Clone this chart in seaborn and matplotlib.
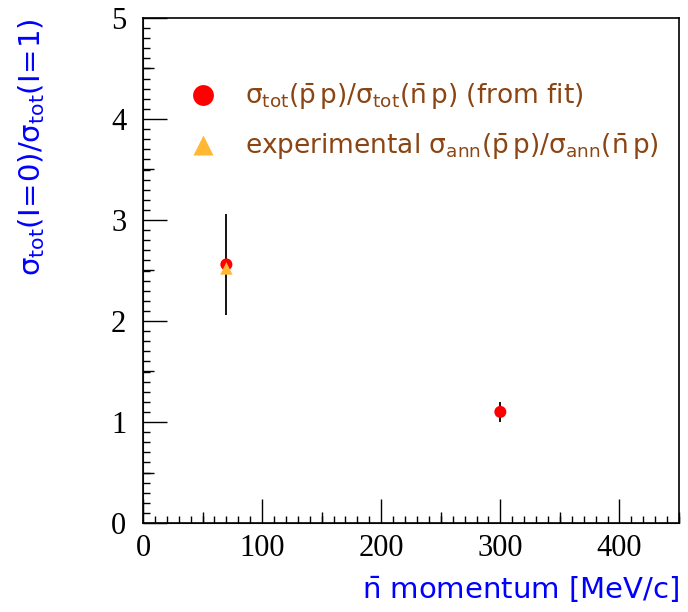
import matplotlib
matplotlib.use("Agg")
import matplotlib.pyplot as plt
from matplotlib.lines import Line2D
from matplotlib.ticker import MultipleLocator, FixedLocator, NullFormatter
import seaborn as sns
import pandas as pd

# data
fit_momentum = [70, 300]
fit_ratio = [2.56, 1.10]
fit_err = [0.50, 0.10]
exp_momentum = [70]
exp_ratio = [2.52]

legend_labels = [
    r"$\sigma_{tot}(\bar{p}\,p)/\sigma_{tot}(\bar{n}\,p)$ (from fit)",
    r"experimental $\sigma_{ann}(\bar{p}\,p)/\sigma_{ann}(\bar{n}\,p)$",
]
xlabel = r"$\bar{n}$ momentum [MeV/c]"
ylabel = r"$\sigma_{tot}(I\!=\!0)/\sigma_{tot}(I\!=\!1)$"

sns.set_style("white")
plt.rcParams["font.family"] = ["DejaVu Sans"]
plt.rcParams["mathtext.fontset"] = "custom"
plt.rcParams["mathtext.rm"] = "DejaVu Sans"
plt.rcParams["mathtext.it"] = "DejaVu Sans"
plt.rcParams["mathtext.default"] = "regular"
plt.rcParams["xtick.direction"] = "in"
plt.rcParams["ytick.direction"] = "in"
plt.rcParams["xtick.bottom"] = True
plt.rcParams["ytick.left"] = True
plt.rcParams["xtick.color"] = "black"
plt.rcParams["ytick.color"] = "black"

RED = "#ff0000"
ORANGE = "#ffb833"
BROWN = "#8b4513"
BLUE = "#0000ff"

fig = plt.figure(figsize=(6.88, 6.12), dpi=100)
ax = fig.add_axes([143/688, 89/612, 536/688, 505/612])

df_fit = pd.DataFrame({"p": fit_momentum, "r": fit_ratio, "e": fit_err})
df_exp = pd.DataFrame({"p": exp_momentum, "r": exp_ratio})

ax.errorbar(df_fit["p"], df_fit["r"], yerr=df_fit["e"], fmt="none",
            ecolor="black", elinewidth=1.3, capsize=0, zorder=2)
sns.scatterplot(data=df_fit, x="p", y="r", ax=ax, color=RED, marker="o",
                s=75, edgecolor="none", zorder=3, legend=False)
sns.scatterplot(data=df_exp, x="p", y="r", ax=ax, color=ORANGE, marker="^",
                s=80, edgecolor="none", zorder=4, legend=False)

ax.set_xlim(0, 450)
ax.set_ylim(0, 5)

# ticks
serif = "Liberation Serif"
ax.xaxis.set_major_locator(MultipleLocator(100))
ax.xaxis.set_minor_locator(MultipleLocator(10))
ax.yaxis.set_major_locator(MultipleLocator(1))
ax.yaxis.set_minor_locator(MultipleLocator(0.1))
ax.tick_params(which="major", direction="in", length=17, width=1.0,
               labelsize=22, bottom=True, left=True, top=False, right=False,
               color="black")
ax.tick_params(which="minor", direction="in", length=5, width=1.0,
               bottom=True, left=True, top=False, right=False, color="black")
ax.tick_params(axis="x", which="major", pad=8)
ax.tick_params(axis="y", which="major", pad=12)
for lab in ax.get_xticklabels() + ax.get_yticklabels():
    lab.set_fontfamily(serif)

# medium ticks
secx = ax.secondary_xaxis("bottom")
secx.xaxis.set_major_locator(FixedLocator([50, 150, 250, 350, 450]))
secx.xaxis.set_major_formatter(NullFormatter())
secx.tick_params(direction="in", length=8, width=1.0, bottom=True)
secy = ax.secondary_yaxis("left")
secy.yaxis.set_major_locator(FixedLocator([0.5, 1.5, 2.5, 3.5, 4.5]))
secy.yaxis.set_major_formatter(NullFormatter())
secy.tick_params(direction="in", length=8, width=1.0, left=True)

for sp in ax.spines.values():
    sp.set_linewidth(1.2)
    sp.set_color("black")

ax.set_xlabel(xlabel, color=BLUE, fontsize=21, loc="right", labelpad=8)
ax.set_ylabel(ylabel, color=BLUE, fontsize=21, loc="top", labelpad=46)

handles = [
    Line2D([], [], linestyle="none", marker="o", markersize=15, color=RED, markeredgecolor="none"),
    Line2D([], [], linestyle="none", marker="^", markersize=15, color=ORANGE, markeredgecolor="none"),
]
leg = ax.legend(handles, legend_labels, loc="upper left",
                bbox_to_anchor=(0.03, 0.92), frameon=False, fontsize=19,
                handletextpad=0.85, labelspacing=0.72, handlelength=1.5)
for t in leg.get_texts():
    t.set_color(BROWN)

fig.savefig("out.png", dpi=100)
